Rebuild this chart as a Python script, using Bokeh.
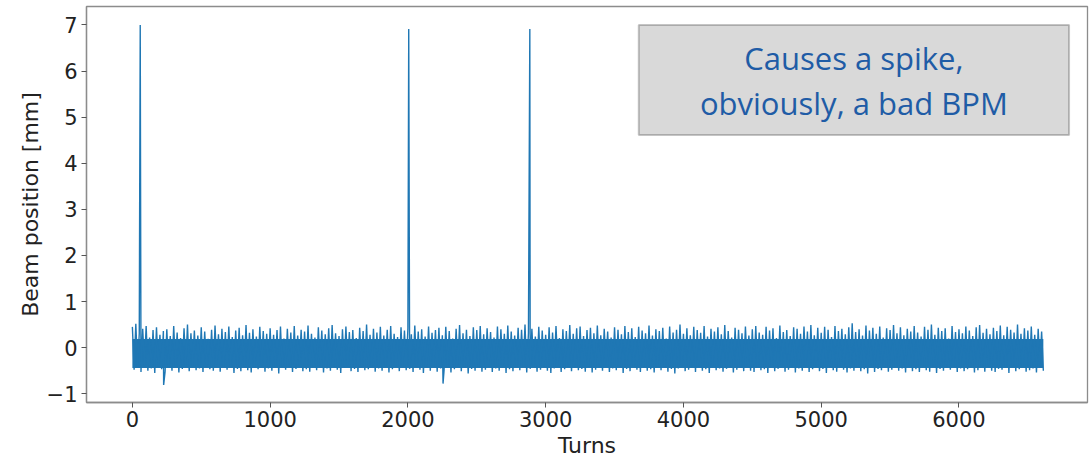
from bokeh.plotting import figure
from bokeh.models import Range1d, Label, BoxAnnotation, FixedTicker
from bokeh.embed import file_html
from bokeh.resources import INLINE

# ---------------- data ----------------
bin_width = 25  # turns per envelope bin
# local maxima of the beam position in each 25-turn bin [mm]
beam_hi = [
    0.45, 0.52, 0.30, 0.41, 0.47, 0.22, 0.38, 0.44, 0.28, 0.36,
    0.40, 0.25, 0.47, 0.33, 0.21, 0.42, 0.50, 0.31, 0.37, 0.26,
    0.44, 0.35, 0.19, 0.39, 0.48, 0.29, 0.41, 0.34, 0.46, 0.23,
    0.37, 0.43, 0.27, 0.49, 0.32, 0.40, 0.24, 0.45, 0.36, 0.30,
    0.42, 0.28, 0.38, 0.46, 0.20, 0.41, 0.33, 0.47, 0.26, 0.39,
    0.35, 0.48, 0.30, 0.22, 0.44, 0.37, 0.29, 0.42, 0.49, 0.31,
    0.25, 0.40, 0.46, 0.34, 0.38, 0.21, 0.43, 0.36, 0.50, 0.28,
    0.41, 0.33, 0.45, 0.26, 0.39, 0.47, 0.30, 0.23, 0.44, 0.37,
    0.42, 0.29, 0.48, 0.35, 0.40, 0.24, 0.46, 0.32, 0.38, 0.43,
    0.27, 0.45, 0.36, 0.20, 0.41, 0.49, 0.31, 0.39, 0.25, 0.44,
    0.38, 0.47, 0.29, 0.42, 0.34, 0.22, 0.46, 0.40, 0.30, 0.48,
    0.35, 0.26, 0.43, 0.39, 0.50, 0.32, 0.41, 0.24, 0.45, 0.37,
    0.28, 0.44, 0.33, 0.47, 0.21, 0.40, 0.36, 0.49, 0.30, 0.42,
    0.46, 0.25, 0.38, 0.43, 0.31, 0.48, 0.27, 0.41, 0.35, 0.22,
    0.44, 0.39, 0.29, 0.47, 0.34, 0.42, 0.23, 0.45, 0.37, 0.31,
    0.48, 0.26, 0.40, 0.36, 0.43, 0.20, 0.46, 0.33, 0.39, 0.50,
    0.30, 0.42, 0.27, 0.45, 0.38, 0.32, 0.47, 0.24, 0.41, 0.35,
    0.44, 0.29, 0.49, 0.36, 0.22, 0.43, 0.39, 0.31, 0.46, 0.26,
    0.40, 0.47, 0.33, 0.28, 0.45, 0.37, 0.42, 0.21, 0.48, 0.34,
    0.38, 0.25, 0.44, 0.41, 0.30, 0.46, 0.35, 0.49, 0.27, 0.43,
    0.32, 0.45, 0.39, 0.23, 0.47, 0.36, 0.41, 0.29, 0.44, 0.53,
    0.34, 0.40, 0.26, 0.48, 0.37, 0.43, 0.30, 0.46, 0.22, 0.42,
    0.38, 0.49, 0.31, 0.44, 0.27, 0.41, 0.35, 0.47, 0.33, 0.24,
    0.45, 0.39, 0.50, 0.28, 0.43, 0.36, 0.42, 0.20, 0.47, 0.34,
    0.40, 0.31, 0.46, 0.37, 0.25, 0.44, 0.49, 0.32, 0.41, 0.29,
    0.43, 0.36, 0.48, 0.27, 0.45, 0.39, 0.33, 0.50, 0.30, 0.42,
    0.37, 0.46, 0.28, 0.41, 0.35,
]
# local minima of the beam position in each 25-turn bin [mm]
beam_lo = [
    -0.48, -0.42, -0.53, -0.39, -0.50, -0.45, -0.55, -0.41, -0.47, -0.52,
    -0.44, -0.50, -0.38, -0.54, -0.46, -0.43, -0.51, -0.40, -0.49, -0.45,
    -0.53, -0.41, -0.47, -0.50, -0.37, -0.52, -0.44, -0.48, -0.42, -0.55,
    -0.46, -0.51, -0.40, -0.49, -0.54, -0.43, -0.47, -0.39, -0.52, -0.45,
    -0.50, -0.42, -0.56, -0.44, -0.48, -0.41, -0.53, -0.46, -0.38, -0.51,
    -0.47, -0.52, -0.43, -0.49, -0.40, -0.54, -0.45, -0.50, -0.42, -0.48,
    -0.55, -0.44, -0.39, -0.51, -0.46, -0.53, -0.41, -0.49, -0.47, -0.43,
    -0.52, -0.45, -0.50, -0.38, -0.54, -0.47, -0.42, -0.51, -0.44, -0.49,
    -0.46, -0.53, -0.41, -0.48, -0.55, -0.43, -0.50, -0.39, -0.52, -0.45,
    -0.49, -0.42, -0.54, -0.47, -0.40, -0.51, -0.44, -0.56, -0.46, -0.50,
    -0.43, -0.52, -0.48, -0.41, -0.53, -0.45, -0.50, -0.38, -0.55, -0.47,
    -0.51, -0.44, -0.49, -0.42, -0.54, -0.46, -0.40, -0.52, -0.48, -0.43,
    -0.50, -0.55, -0.45, -0.39, -0.53, -0.47, -0.42, -0.51, -0.44, -0.49,
    -0.46, -0.52, -0.41, -0.54, -0.48, -0.43, -0.50, -0.37, -0.53, -0.45,
    -0.49, -0.42, -0.55, -0.46, -0.51, -0.40, -0.48, -0.53, -0.44, -0.50,
    -0.47, -0.54, -0.43, -0.49, -0.41, -0.52, -0.46, -0.56, -0.45, -0.39,
    -0.51, -0.48, -0.44, -0.53, -0.42, -0.50, -0.47, -0.55, -0.40, -0.49,
    -0.45, -0.52, -0.46, -0.41, -0.54, -0.48, -0.43, -0.51, -0.38, -0.50,
    -0.53, -0.44, -0.49, -0.47, -0.55, -0.42, -0.51, -0.46, -0.40, -0.52,
    -0.48, -0.43, -0.54, -0.45, -0.50, -0.39, -0.53, -0.47, -0.44, -0.51,
    -0.46, -0.55, -0.42, -0.49, -0.52, -0.41, -0.48, -0.54, -0.45, -0.50,
    -0.43, -0.51, -0.47, -0.56, -0.40, -0.53, -0.46, -0.49, -0.44, -0.52,
    -0.48, -0.42, -0.50, -0.45, -0.54, -0.39, -0.51, -0.47, -0.53, -0.44,
    -0.49, -0.52, -0.41, -0.55, -0.46, -0.50, -0.43, -0.48, -0.38, -0.53,
    -0.45, -0.51, -0.47, -0.42, -0.54, -0.49, -0.44, -0.52, -0.40, -0.50,
    -0.53, -0.46, -0.48, -0.43, -0.55, -0.41, -0.51, -0.47, -0.44, -0.52,
    -0.49, -0.45, -0.54, -0.42, -0.50,
]
# dense core of the trace (always covered) [mm]
core_band = [-0.44, 0.19]
# bad-BPM spikes
spike_turns = [57, 2006, 2885]
spike_values = [7.0, 6.91, 6.91]
# isolated downward excursions
dip_turns = [227, 2255]
dip_values = [-0.81, -0.78]

x_ticks = [0, 1000, 2000, 3000, 4000, 5000, 6000]
y_ticks = [-1, 0, 1, 2, 3, 4, 5, 6, 7]

annotation_lines = ["Causes a spike,", "obviously, a bad BPM"]

# ---------------- build the trace ----------------
pts = []
for i, (h, l) in enumerate(zip(beam_hi, beam_lo)):
    pts.append((i * bin_width, h))
    pts.append((i * bin_width + bin_width / 2, l))
pts += list(zip(spike_turns, spike_values))
pts += list(zip(dip_turns, dip_values))
pts.sort(key=lambda t: t[0])
xs = [t[0] for t in pts]
ys = [t[1] for t in pts]
last_turn = (len(beam_hi) - 1) * bin_width + bin_width / 2

# ---------------- figure ----------------
BLUE = "#1f77b4"
p = figure(width=1089, height=462, output_backend="svg", toolbar_location=None,
           x_range=Range1d(-333, 6933), y_range=Range1d(-1.19, 7.40),
           min_border_left=86, min_border_right=2, min_border_top=6,
           min_border_bottom=60)
p.background_fill_color = "white"
p.border_fill_color = "white"
p.xgrid.visible = False
p.ygrid.visible = False
p.outline_line_color = "#8c8c8c"
p.outline_line_width = 1.3

p.varea(x=[0, last_turn], y1=[core_band[0]] * 2, y2=[core_band[1]] * 2,
        fill_color=BLUE, fill_alpha=1.0)
p.line(xs, ys, line_color=BLUE, line_width=1.4)

for ax in (p.xaxis[0], p.yaxis[0]):
    ax.axis_line_color = "#8c8c8c"
    ax.axis_line_width = 1.3
    ax.major_tick_line_color = "#555555"
    ax.major_tick_out = 5
    ax.major_tick_in = 0
    ax.minor_tick_line_color = None
    ax.major_label_text_font = "DejaVu Sans"
    ax.major_label_text_font_size = "21px"
    ax.major_label_text_color = "#222222"
    ax.axis_label_text_font = "DejaVu Sans"
    ax.axis_label_text_font_size = "22px"
    ax.axis_label_text_font_style = "normal"
    ax.axis_label_text_color = "#222222"

p.xaxis.ticker = FixedTicker(ticks=x_ticks)
p.yaxis.ticker = FixedTicker(ticks=y_ticks)
p.yaxis.major_label_overrides = {-1: "\u22121"}
p.xaxis.axis_label = "Turns"
p.yaxis.axis_label = "Beam position [mm]"
p.xaxis.major_label_standoff = 3
p.xaxis.axis_label_standoff = 3
p.yaxis.major_label_standoff = 4
p.yaxis.axis_label_standoff = 1

# annotation box
box = BoxAnnotation(left=3676, right=6799, top=7.0, bottom=4.61,
                    fill_color="#d9d9d9", fill_alpha=1.0,
                    line_color="#404040", line_width=2)
p.add_layout(box)
for txt, yy in zip(annotation_lines, [6.29, 5.30]):
    p.add_layout(Label(x=5237, y=yy, text=txt, text_align="center",
                       text_baseline="alphabetic", text_font="Open Sans",
                       text_font_size="31px", text_color="#1f5ca6"))

open("out.html", "w").write(file_html(p, INLINE))
